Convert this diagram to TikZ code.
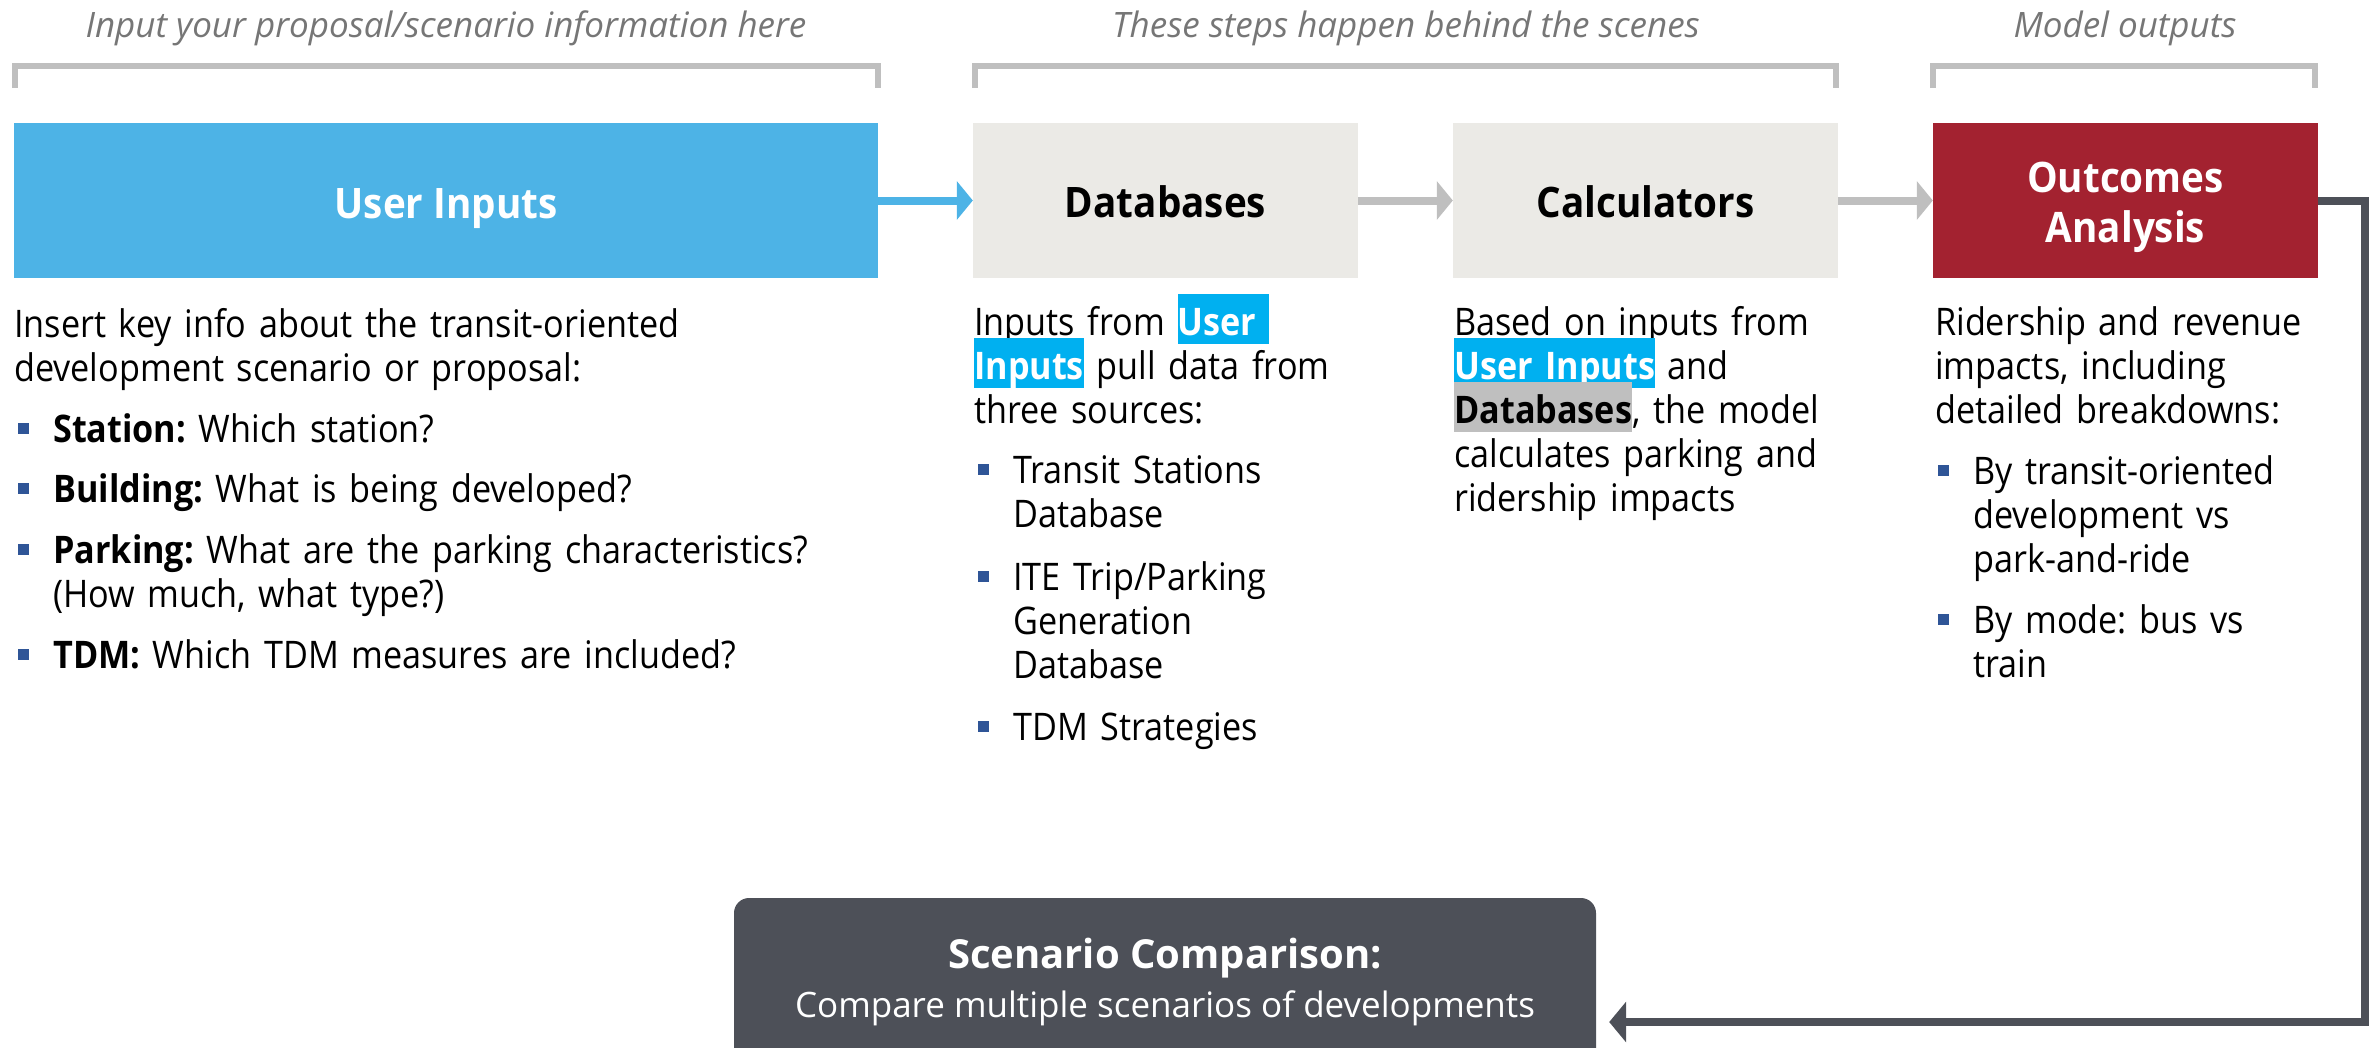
\documentclass[tikz,border=0pt]{standalone}
\usepackage{fontspec}
\setmainfont{Open Sans}[FakeStretch=0.92]
\newfontfamily\bodyfam{Open Sans}[FakeStretch=0.90]
\newfontfamily\plainfam{Open Sans}
\usetikzlibrary{arrows.meta,calc}

\definecolor{inblue}{RGB}{77,179,230}
\definecolor{hlblue}{RGB}{0,176,240}
\definecolor{hlgray}{RGB}{191,191,191}
\definecolor{stepgray}{RGB}{235,234,230}
\definecolor{outred}{RGB}{163,34,48}
\definecolor{slate}{RGB}{77,80,88}
\definecolor{linegray}{RGB}{191,191,191}
\definecolor{hdrgray}{RGB}{118,118,118}
\definecolor{bulblue}{RGB}{47,85,151}

\setlength{\fboxsep}{0pt}
\frenchspacing
% highlight bars that do not disturb the line spacing
\newcommand\hlstrut{\rule[-9pt]{0pt}{50pt}}
\newcommand\hlb[1]{\smash{\colorbox{hlblue}{\hlstrut\textcolor{white}{\bfseries #1}}}}
\newcommand\hlg[1]{\smash{\colorbox{hlgray}{\hlstrut\bfseries #1}}}

\tikzset{
  stagebox/.style={rectangle, draw=none, inner sep=0pt, minimum height=155pt},
  hdr/.style={anchor=base, inner sep=0pt, text=hdrgray,
    font=\plainfam\itshape\fontsize{35}{40}\selectfont},
  ttl/.style={anchor=base, inner sep=0pt, font=\bfseries\fontsize{42}{50}\selectfont},
  body/.style={anchor=base west, inner sep=0pt, align=left, text width=#1,
    font=\bodyfam\fontsize{38}{44}\selectfont},
  body/.default=440pt,
  bracket/.style={draw=linegray, line width=6pt, line join=miter},
  flow/.style={line width=8pt, -{Triangle[length=16pt,width=38pt]}},
  backflow/.style={draw=slate, line width=8pt, line join=miter,
    -{Triangle[length=17pt,width=40pt]}},
}
\newcommand\bsq[1]{\fill[bulblue] ($(#1.base west)+(-35.5,-19)$) rectangle ++(11,11);}

\begin{document}
\begin{tikzpicture}[x=1pt,y=-1pt]
\useasboundingbox (0,0) rectangle (2374,1047);
\clip (0,0) rectangle (2374,1047);

% section captions
\node[hdr] (h1) at (446,37) {Input your proposal/scenario information here};
\node[hdr] (h2) at (1406,37) {These steps happen behind the scenes};
\node[hdr] (h3) at (2125,37) {Model outputs};

% brackets under the captions
\draw[bracket] (14.5,88) -- (14.5,66) -- (878,66) -- (878,88);
\draw[bracket] (975,88) -- (975,66) -- (1836,66) -- (1836,88);
\draw[bracket] (1933,88) -- (1933,66) -- (2315,66) -- (2315,88);

% stage boxes
\node[stagebox, fill=inblue, minimum width=864pt] (ui) at (446,200.5) {};
\node[stagebox, fill=stepgray, minimum width=385pt] (db) at (1165.5,200.5) {};
\node[stagebox, fill=stepgray, minimum width=385pt] (calc) at (1645.5,200.5) {};
\node[stagebox, fill=outred, minimum width=385pt] (out) at (2125.5,200.5) {};

\node[ttl, text=white] (uit) at (446,218) {User Inputs};
\node[ttl] (dbt) at (1165.5,217) {Databases};
\node[ttl] (calct) at (1645.5,217) {Calculators};
\node[ttl, text=white] (outt1) at (2125.5,192) {Outcomes};
\node[ttl, text=white] (outt2) at (2125.5,242) {Analysis};

% scenario comparison box
\node[rectangle, rounded corners=15pt, fill=slate, minimum width=862pt,
  minimum height=168pt, inner sep=0pt] (scen) at (1165,982) {};
\node[anchor=base, inner sep=0pt, text=white,
  font=\plainfam\bfseries\fontsize{40}{48}\selectfont] (scent1) at (1165,968) {Scenario Comparison:};
\node[anchor=base, inner sep=0pt, text=white,
  font=\plainfam\fontsize{35}{42}\selectfont] (scent2) at (1165,1017) {Compare multiple scenarios of developments};

% connectors
\draw[flow, draw=inblue] (ui.east) -- (db.west);
\draw[flow, draw=linegray] (db.east) -- (calc.west);
\draw[flow, draw=linegray] (calc.east) -- (out.west);
\coordinate (bend) at (2365,1022);
\draw[backflow] (out.east) -| (bend) -- ($(scen.east |- bend)+(13,0)$);

% column 1
\node[body=860pt] (c1p) at (14,337)
  {Insert key info about the transit-oriented\\development scenario or proposal:};
\node[body=820pt] (c1b1) at (53,442) {\textbf{Station:} Which station?};
\node[body=820pt] (c1b2) at (53,502) {\textbf{Building:} What is being developed?};
\node[body=820pt] (c1b3) at (53,563)
  {\textbf{Parking:} What are the parking characteristics?\\(How much, what type?)};
\node[body=820pt] (c1b4) at (53,668) {\textbf{TDM:} Which TDM measures are included?};
\bsq{c1b1}\bsq{c1b2}\bsq{c1b3}\bsq{c1b4}

% column 2
\node[body] (c2p) at (974,335)
  {Inputs from \hlb{User\ }\\\hlb{Inputs} pull data from\\three sources:};
\node[body=420pt] (c2b1) at (1013,483) {Transit Stations\\Database};
\node[body=420pt] (c2b2) at (1013,590) {ITE Trip/Parking\\Generation\\Database};
\node[body=420pt] (c2b3) at (1013,740) {TDM Strategies};
\bsq{c2b1}\bsq{c2b2}\bsq{c2b3}

% column 3
\node[body] (c3p) at (1454,335)
  {Based on inputs from\\\hlb{User Inputs} and\\\hlg{Databases}, the model\\calculates parking and\\ridership impacts};

% column 4
\node[body=420pt] (c4p) at (1935,335)
  {Ridership and revenue\\impacts, including\\detailed breakdowns:};
\node[body=380pt] (c4b1) at (1973,484) {By transit-oriented\\development vs\\park-and-ride};
\node[body=380pt] (c4b2) at (1973,633) {By mode: bus vs\\train};
\bsq{c4b1}\bsq{c4b2}
\end{tikzpicture}
\end{document}
